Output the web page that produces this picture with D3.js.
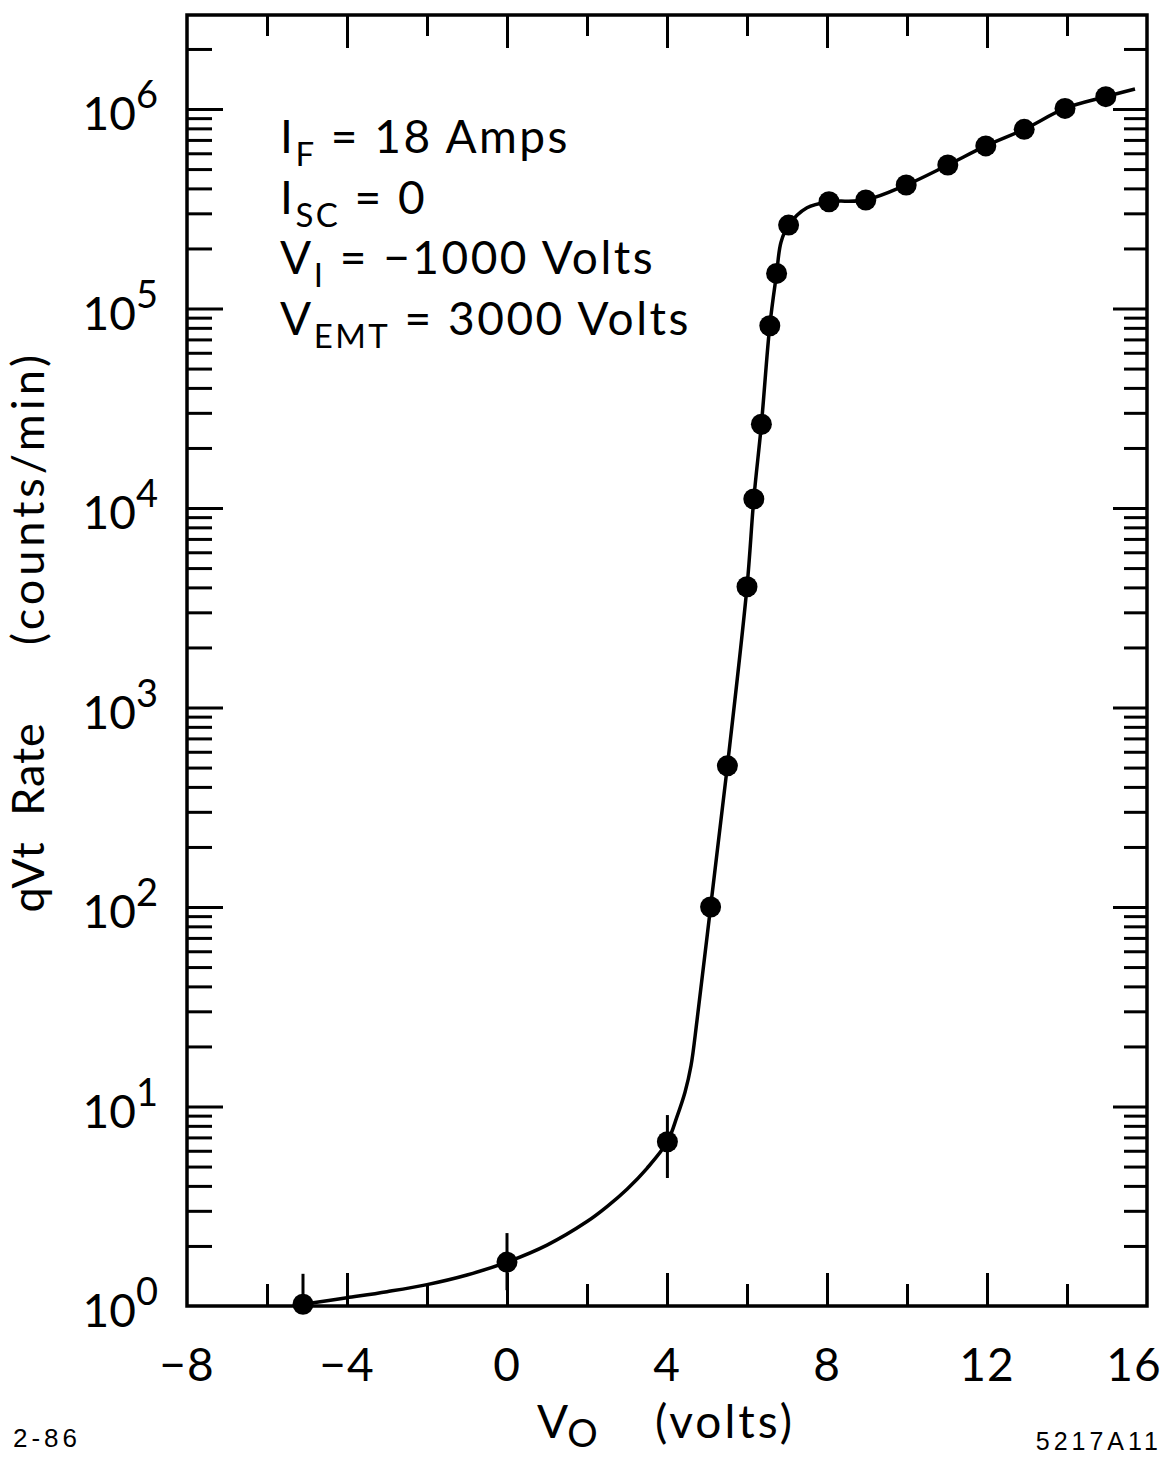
<!DOCTYPE html>
<html>
<head>
<meta charset="utf-8">
<script src="https://cdn.jsdelivr.net/npm/d3@7"></script>
<style>
  body { margin: 0; background: #fff; }
  svg text { font-family: "Lato", "DejaVu Sans", sans-serif; font-weight: 400; fill: #000; }
  .foot { font-family: "Liberation Sans", Arial, sans-serif; font-weight: 400; }
</style>
</head>
<body>
<svg id="chart" width="1167" height="1457"></svg>
<script>
// Measured qVt counting rate versus V0
const voltage = [-5.1, 0, 4.01, 5.09, 5.51, 6.0, 6.17, 6.36, 6.57, 6.74, 7.04, 8.05, 8.97, 9.98, 11.02, 11.97, 12.93, 13.95, 14.97];
const rate    = [1.02, 1.66, 6.66, 100, 510, 4030, 11100, 26300, 82000, 150000, 262000, 343000, 350000, 416000, 524000, 653000, 791000, 1007000, 1153000];

// Error bars on the low-rate points
const errV    = [-5.1, 0, 4.01];
const errLow  = [1.0, 1.2, 4.38];
const errHigh = [1.45, 2.32, 9.06];

// Hand-drawn guide curve through the data
const fitV    = [-5.1, -4, -3, -2, -1, 0, 1, 2, 2.5, 3, 3.5, 4.01, 4.25, 4.45, 4.6, 4.75, 5.09, 5.51, 6.0, 6.17, 6.36, 6.57, 6.74, 6.85, 7.04, 7.5, 8.05, 8.97, 9.98, 11.02, 11.97, 12.93, 13.95, 14.97, 15.7];
const fitRate = [1.02, 1.1, 1.18, 1.28, 1.43, 1.66, 2.02, 2.65, 3.15, 3.85, 4.9, 6.66, 8.9, 11.8, 16, 27, 100, 510, 4030, 11100, 26300, 82000, 150000, 215000, 262000, 320000, 343000, 350000, 416000, 524000, 653000, 791000, 1007000, 1153000, 1260000];

// Axes
const xMajor = [-8, -4, 0, 4, 8, 12, 16];
const xMajorLabels = ["\u22128", "\u22124", "0", "4", "8", "12", "16"];
const xMinor = [-6, -2, 2, 6, 10, 14];
const yExponents = [0, 1, 2, 3, 4, 5, 6];
const yMinorMultipliers = [2, 3, 4, 5, 6, 7, 8, 9];

// Parameter block
const conditions = [
  { main: "I", sub: "F", rest: " = 18  Amps" },
  { main: "I", sub: "SC", rest: " = 0" },
  { main: "V", sub: "I", rest: " = \u22121000 Volts" },
  { main: "V", sub: "EMT", rest: " = 3000 Volts" }
];

const plotLeft = 187, plotRight = 1147, plotTop = 15, plotBottom = 1306;

const svg = d3.select("#chart");

const x = d3.scaleLinear().domain([-8, 16]).range([plotLeft, plotRight]);
const y = d3.scaleLog().domain([1, 2.96e6]).range([plotBottom, plotTop]);

const yMajor = yExponents.map(e => Math.pow(10, e));
const yMinor = [];
yExponents.forEach(e => yMinorMultipliers.forEach(m => {
  const v = m * Math.pow(10, e);
  if (v < y.domain()[1]) yMinor.push(v);
}));

function styleAxis(g) {
  g.select(".domain").remove();
  g.selectAll(".tick line").attr("stroke", "#000").attr("stroke-width", 3);
  g.selectAll(".tick text").remove();
}

// inward-pointing ticks on all four sides
svg.append("g").attr("transform", `translate(0,${plotBottom})`)
  .call(d3.axisBottom(x).tickValues(xMajor.slice(1, -1)).tickSizeInner(-33).tickSizeOuter(0)).call(styleAxis);
svg.append("g").attr("transform", `translate(0,${plotBottom})`)
  .call(d3.axisBottom(x).tickValues(xMinor).tickSizeInner(-22).tickSizeOuter(0)).call(styleAxis);
svg.append("g").attr("transform", `translate(0,${plotTop})`)
  .call(d3.axisTop(x).tickValues(xMajor.slice(1, -1)).tickSizeInner(-33).tickSizeOuter(0)).call(styleAxis);
svg.append("g").attr("transform", `translate(0,${plotTop})`)
  .call(d3.axisTop(x).tickValues(xMinor).tickSizeInner(-21).tickSizeOuter(0)).call(styleAxis);

svg.append("g").attr("transform", `translate(${plotLeft},0)`)
  .call(d3.axisLeft(y).tickValues(yMajor.slice(1)).tickSizeInner(-36).tickSizeOuter(0)).call(styleAxis);
svg.append("g").attr("transform", `translate(${plotLeft},0)`)
  .call(d3.axisLeft(y).tickValues(yMinor).tickSizeInner(-25).tickSizeOuter(0)).call(styleAxis);
svg.append("g").attr("transform", `translate(${plotRight},0)`)
  .call(d3.axisRight(y).tickValues(yMajor.slice(1)).tickSizeInner(-34).tickSizeOuter(0)).call(styleAxis);
svg.append("g").attr("transform", `translate(${plotRight},0)`)
  .call(d3.axisRight(y).tickValues(yMinor).tickSizeInner(-23).tickSizeOuter(0)).call(styleAxis);

// frame
svg.append("rect")
  .attr("x", plotLeft).attr("y", plotTop)
  .attr("width", plotRight - plotLeft).attr("height", plotBottom - plotTop)
  .attr("fill", "none").attr("stroke", "#000").attr("stroke-width", 3.5);

// x tick labels (the last one is pulled in to stay on the page)
svg.append("g").selectAll("text").data(xMajor).join("text")
  .attr("x", d => Math.min(x(d), 1134))
  .attr("y", plotBottom + 75)
  .attr("text-anchor", "middle")
  .attr("font-size", 46)
  .attr("letter-spacing", 1)
  .text((d, i) => xMajorLabels[i]);

// y tick labels: 10 with superscript exponent
const yl = svg.append("g").selectAll("text").data(yExponents).join("text")
  .attr("x", 158)
  .attr("y", d => y(Math.pow(10, d)) + 21)
  .attr("text-anchor", "end")
  .attr("font-size", 46);
yl.append("tspan").text("10");
yl.append("tspan").attr("font-size", 38).attr("dy", -22).text(d => d);

// axis titles
const xt = svg.append("text").attr("x", 537).attr("y", 1438).attr("font-size", 46);
xt.append("tspan").text("V");
xt.append("tspan").attr("font-size", 38).attr("dx", -1).attr("dy", 9).text("O");
xt.append("tspan").attr("dy", -9).attr("x", 655).attr("letter-spacing", 3).text("(volts)");

const yTitle = [
  { t: "qVt", c: 877, ls: 1 },
  { t: "Rate", c: 769, ls: 1 },
  { t: "(counts/min)", c: 498, ls: 4 }
];
svg.append("g").selectAll("text").data(yTitle).join("text")
  .attr("transform", d => `translate(44,${d.c}) rotate(-90)`)
  .attr("text-anchor", "middle")
  .attr("font-size", 45)
  .attr("letter-spacing", d => d.ls)
  .text(d => d.t);

// condition block
const baselines = [153, 214, 274, 335];
const cb = svg.append("g").selectAll("text").data(conditions).join("text")
  .attr("x", 280)
  .attr("y", (d, i) => baselines[i])
  .attr("font-size", 46)
  .attr("letter-spacing", 2.5);
cb.append("tspan").text(d => d.main);
cb.append("tspan").attr("font-size", 33).attr("dy", 13).text(d => d.sub);
cb.append("tspan").attr("dy", -13).text(d => d.rest);

// guide curve
const line = d3.line()
  .x((d, i) => x(fitV[i]))
  .y((d, i) => y(fitRate[i]))
  .curve(d3.curveCatmullRom.alpha(0.5));
svg.append("path")
  .attr("d", line(fitV))
  .attr("fill", "none")
  .attr("stroke", "#000")
  .attr("stroke-width", 3.5);

// error bars
svg.append("g").selectAll("line").data(errV).join("line")
  .attr("x1", d => x(d)).attr("x2", d => x(d))
  .attr("y1", (d, i) => y(errLow[i])).attr("y2", (d, i) => y(errHigh[i]))
  .attr("stroke", "#000").attr("stroke-width", 3);

// data points
svg.append("g").selectAll("circle").data(voltage).join("circle")
  .attr("cx", d => x(d))
  .attr("cy", (d, i) => y(rate[i]))
  .attr("r", 10.5)
  .attr("fill", "#000");

// footer codes
svg.append("text").attr("class", "foot").attr("x", 13).attr("y", 1447)
  .attr("font-size", 26).attr("letter-spacing", 4).text("2-86");
svg.append("text").attr("class", "foot").attr("x", 1162).attr("y", 1450)
  .attr("text-anchor", "end")
  .attr("font-size", 25).attr("letter-spacing", 4).text("5217A11");
</script>
</body>
</html>
